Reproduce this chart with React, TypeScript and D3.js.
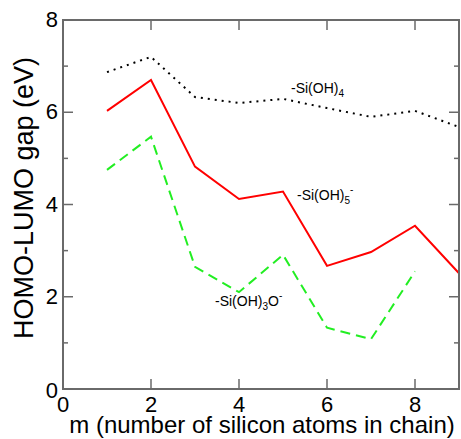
import React from 'react'
import * as d3 from 'd3'

const mValues = [1, 2, 3, 4, 5, 6, 7, 8, 9]
const siOH4 = [6.87, 7.2, 6.33, 6.2, 6.29, 6.09, 5.9, 6.03, 5.68]
const siOH5 = [6.03, 6.7, 4.82, 4.12, 4.28, 2.67, 2.97, 3.54, 2.51]
const siOH3O = [4.75, 5.47, 2.65, 2.1, 2.91, 1.33, 1.08, 2.55]
const xTicks = [2, 4, 6, 8]
const yTicks = [2, 4, 6, 8]
const yMinor = [1, 3, 5, 7]

const W = 461
const H = 439
const margin = { left: 63, right: 2, top: 20, bottom: 50 }

export default function App() {
  const x = d3.scaleLinear().domain([0, 9]).range([margin.left, W - margin.right])
  const y = d3.scaleLinear().domain([0, 8]).range([H - margin.bottom, margin.top])

  const line = d3.line<number>()
    .x((d, i) => x(mValues[i]))
    .y(d => y(d))

  const axisColor = '#6a6a6a'
  const font = 'Liberation Sans, Arial, sans-serif'
  const x0 = x(0), x1 = x(9), y0 = y(0), y1 = y(8)

  return (
    <svg width={W} height={H} style={{ position: 'absolute', left: 0, top: 0 }} fontFamily={font}>
      <rect width={W} height={H} fill="#fff" />
      {/* data lines */}
      <path d={line(siOH4) ?? ''} fill="none" stroke="#000" strokeWidth={2} strokeDasharray="2,5" />
      <path d={line(siOH5) ?? ''} fill="none" stroke="#ff0000" strokeWidth={2} />
      <path d={line(siOH3O) ?? ''} fill="none" stroke="#22ee22" strokeWidth={2} strokeDasharray="10,6" />

      {/* frame */}
      <rect x={x0} y={y1} width={x1 - x0} height={y0 - y1} fill="none" stroke={axisColor} strokeWidth={2} />

      {/* x ticks */}
      {xTicks.map(t => (
        <g key={'x' + t}>
          <line x1={x(t)} x2={x(t)} y1={y0} y2={y0 - 10} stroke={axisColor} strokeWidth={1.5} />
          <line x1={x(t)} x2={x(t)} y1={y1} y2={y1 + 10} stroke={axisColor} strokeWidth={1.5} />
        </g>
      ))}
      {[0, ...xTicks].map(t => (
        <text key={'xl' + t} x={x(t)} y={y0 + 23} fontSize={22} textAnchor="middle">{t}</text>
      ))}

      {/* y ticks */}
      {yTicks.concat([0]).map(t => (
        <g key={'y' + t}>
          <line x1={x0} x2={x0 + 10} y1={y(t)} y2={y(t)} stroke={axisColor} strokeWidth={1.5} />
          <line x1={x1} x2={x1 - 10} y1={y(t)} y2={y(t)} stroke={axisColor} strokeWidth={1.5} />
        </g>
      ))}
      {yMinor.map(t => (
        <g key={'ym' + t}>
          <line x1={x0} x2={x0 + 5} y1={y(t)} y2={y(t)} stroke={axisColor} strokeWidth={1.5} />
          <line x1={x1} x2={x1 - 5} y1={y(t)} y2={y(t)} stroke={axisColor} strokeWidth={1.5} />
        </g>
      ))}
      {[0, ...yTicks].map(t => (
        <text key={'yl' + t} x={x0 - 5} y={y(t) + (t === 0 ? 9 : 7)} fontSize={22} textAnchor="end">{t}</text>
      ))}

      {/* axis titles */}
      <text x={262} y={433} fontSize={24} textAnchor="middle">m (number of silicon atoms in chain)</text>
      <text transform={`translate(33, 198) rotate(-90)`} fontSize={27} textAnchor="middle">HOMO-LUMO gap (eV)</text>

      {/* series labels */}
      <text x={291} y={93} fontSize={14}>-Si(OH)<tspan fontSize={10} dy={4}>4</tspan></text>
      <text x={297} y={200} fontSize={14}>-Si(OH)<tspan fontSize={10} dy={4}>5</tspan><tspan fontSize={10} dy={-11}>-</tspan></text>
      <text x={215} y={306} fontSize={14}>-Si(OH)<tspan fontSize={10} dy={4}>3</tspan><tspan dy={-4}>O</tspan><tspan fontSize={10} dy={-7}>-</tspan></text>
    </svg>
  )
}
